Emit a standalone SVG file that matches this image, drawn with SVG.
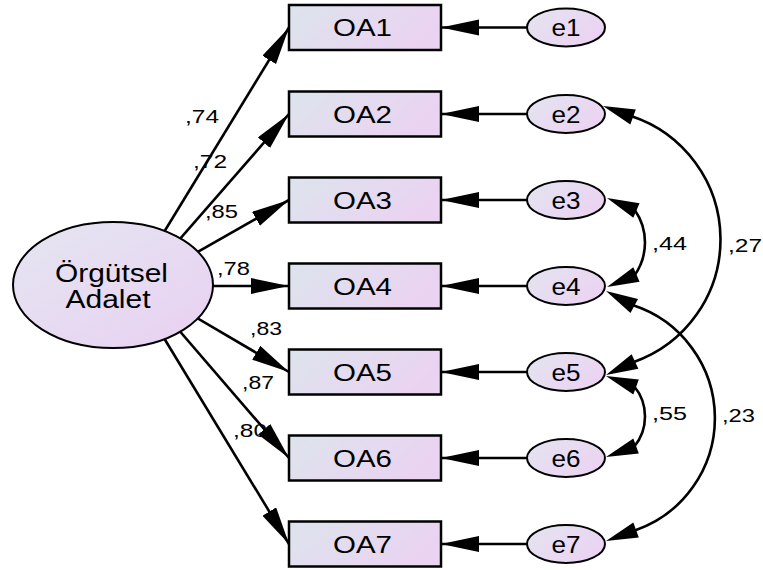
<svg xmlns="http://www.w3.org/2000/svg" xmlns:xlink="http://www.w3.org/1999/xlink" width="763" height="570" viewBox="0 0 763 570">
  <style>
    .box { stroke: #000; stroke-width: 2.5; fill: url(#boxFill); }
    .err { stroke: #000; stroke-width: 2; fill: url(#errFill); }
    .lat { stroke: #000; stroke-width: 2; fill: url(#latFill); }
    .edge { stroke: #000; stroke-width: 2.6; fill: none; }
    .head { fill: #000; stroke: none; }
    text { font-family: "Liberation Sans", Arial, sans-serif; fill: #000; }
    .lbl { font-size: 24px; text-anchor: middle; }
    .coef { font-size: 19px; }
  </style>
  <defs>
    <linearGradient id="boxFill" x1="0" y1="0" x2="1" y2="0.3">
      <stop offset="0" stop-color="#dde4ed"/>
      <stop offset="1" stop-color="#ead3f1"/>
    </linearGradient>
    <linearGradient id="errFill" x1="0" y1="0" x2="1" y2="0.6">
      <stop offset="0" stop-color="#e3e5f0"/>
      <stop offset="1" stop-color="#ebd3f2"/>
    </linearGradient>
    <linearGradient id="latFill" x1="0" y1="0" x2="1" y2="1">
      <stop offset="0" stop-color="#e4e6f1"/>
      <stop offset="1" stop-color="#e9d0f2"/>
    </linearGradient>
    <marker id="arrow" markerUnits="userSpaceOnUse" markerWidth="40" markerHeight="18" refX="38" refY="8" orient="auto">
      <path d="M0,0 L38,8 L0,16 Z" fill="#000"/>
    </marker>
    <!-- arrowhead for the covariance arcs: tip at origin, pointing along +x -->
    <path id="ah" d="M0,0 L-32,-8 L-32,8 Z"/>
  </defs>

  <!-- connectors -->
  <g id="connectors">
    <!-- factor loadings -->
    <line class="edge" x1="150" y1="255" x2="289" y2="27.5" marker-end="url(#arrow)"/>
    <line class="edge" x1="165" y1="256" x2="289" y2="114" marker-end="url(#arrow)"/>
    <line class="edge" x1="180" y1="262" x2="289" y2="200" marker-end="url(#arrow)"/>
    <line class="edge" x1="190" y1="286" x2="289" y2="286" marker-end="url(#arrow)"/>
    <line class="edge" x1="180" y1="308" x2="289" y2="372" marker-end="url(#arrow)"/>
    <line class="edge" x1="165" y1="314" x2="289" y2="458" marker-end="url(#arrow)"/>
    <line class="edge" x1="150" y1="315" x2="289" y2="544" marker-end="url(#arrow)"/>
    <!-- error terms -->
    <line class="edge" x1="527" y1="27.5" x2="441" y2="27.5" marker-end="url(#arrow)"/>
    <line class="edge" x1="527" y1="114" x2="441" y2="114" marker-end="url(#arrow)"/>
    <line class="edge" x1="527" y1="200" x2="441" y2="200" marker-end="url(#arrow)"/>
    <line class="edge" x1="527" y1="286" x2="441" y2="286" marker-end="url(#arrow)"/>
    <line class="edge" x1="527" y1="372" x2="441" y2="372" marker-end="url(#arrow)"/>
    <line class="edge" x1="527" y1="458" x2="441" y2="458" marker-end="url(#arrow)"/>
    <line class="edge" x1="527" y1="544" x2="441" y2="544" marker-end="url(#arrow)"/>
    <!-- covariances -->
    <path class="edge" d="M631,116 A130,130 0 0 1 633.2,362.3"/>
    <path class="edge" d="M634.6,209.7 A57,57 0 0 1 634.6,275.3"/>
    <path class="edge" d="M634.2,386.3 A47.6,47.6 0 0 1 634.2,446.7"/>
    <path class="edge" d="M632.5,305.1 A118.8,118.8 0 0 1 634.2,530.7"/>
    <use xlink:href="#ah" class="head" transform="translate(603,106) rotate(200)"/>
    <use xlink:href="#ah" class="head" transform="translate(606,375) rotate(155)"/>
    <use xlink:href="#ah" class="head" transform="translate(607,198) rotate(203)"/>
    <use xlink:href="#ah" class="head" transform="translate(607,287) rotate(157)"/>
    <use xlink:href="#ah" class="head" transform="translate(606,291) rotate(208)"/>
    <use xlink:href="#ah" class="head" transform="translate(606,541) rotate(160)"/>
    <use xlink:href="#ah" class="head" transform="translate(606,376) rotate(200)"/>
    <use xlink:href="#ah" class="head" transform="translate(606,457) rotate(160)"/>
  </g>

  <!-- coefficients -->
  <g id="coefficients">
    <text class="coef" x="185" y="123" textLength="34" lengthAdjust="spacingAndGlyphs">,74</text>
    <text class="coef" x="193" y="168" textLength="34" lengthAdjust="spacingAndGlyphs">,72</text>
    <text class="coef" x="205" y="218" textLength="33" lengthAdjust="spacingAndGlyphs">,85</text>
    <text class="coef" x="217" y="275" textLength="33" lengthAdjust="spacingAndGlyphs">,78</text>
    <text class="coef" x="250" y="335" textLength="32" lengthAdjust="spacingAndGlyphs">,83</text>
    <text class="coef" x="242" y="389" textLength="32" lengthAdjust="spacingAndGlyphs">,87</text>
    <text class="coef" x="233" y="437" textLength="34" lengthAdjust="spacingAndGlyphs">,80</text>
    <text class="coef" x="652" y="250" textLength="35" lengthAdjust="spacingAndGlyphs">,44</text>
    <text class="coef" x="728" y="252" textLength="34" lengthAdjust="spacingAndGlyphs">,27</text>
    <text class="coef" x="652" y="420" textLength="35" lengthAdjust="spacingAndGlyphs">,55</text>
    <text class="coef" x="722" y="422" textLength="33" lengthAdjust="spacingAndGlyphs">,23</text>
  </g>

  <!-- latent factor -->
  <g id="OrgutselAdalet">
    <ellipse class="lat" cx="113" cy="285" rx="100" ry="63"/>
    <text class="lbl" x="111.5" y="282" textLength="113" lengthAdjust="spacingAndGlyphs" style="font-size:25px">Örgütsel</text>
    <text class="lbl" x="108" y="308" textLength="85" lengthAdjust="spacingAndGlyphs" style="font-size:25px">Adalet</text>
  </g>

  <!-- observed indicators -->
  <g id="OA1"><rect class="box" x="289" y="5" width="152" height="45"/><text class="lbl" x="362.5" y="36" textLength="59" lengthAdjust="spacingAndGlyphs">OA1</text></g>
  <g id="OA2"><rect class="box" x="289" y="91.5" width="152" height="45"/><text class="lbl" x="362.5" y="122.5" textLength="59" lengthAdjust="spacingAndGlyphs">OA2</text></g>
  <g id="OA3"><rect class="box" x="289" y="177.5" width="152" height="45"/><text class="lbl" x="362.5" y="208.5" textLength="59" lengthAdjust="spacingAndGlyphs">OA3</text></g>
  <g id="OA4"><rect class="box" x="289" y="263.5" width="152" height="45"/><text class="lbl" x="362.5" y="294.5" textLength="59" lengthAdjust="spacingAndGlyphs">OA4</text></g>
  <g id="OA5"><rect class="box" x="289" y="349.5" width="152" height="45"/><text class="lbl" x="362.5" y="380.5" textLength="59" lengthAdjust="spacingAndGlyphs">OA5</text></g>
  <g id="OA6"><rect class="box" x="289" y="435.5" width="152" height="45"/><text class="lbl" x="362.5" y="466.5" textLength="59" lengthAdjust="spacingAndGlyphs">OA6</text></g>
  <g id="OA7"><rect class="box" x="289" y="521.5" width="152" height="45"/><text class="lbl" x="362.5" y="552.5" textLength="59" lengthAdjust="spacingAndGlyphs">OA7</text></g>

  <!-- error terms -->
  <g id="e1"><ellipse class="err" cx="566" cy="27.5" rx="39" ry="19"/><text class="lbl" x="566" y="36" textLength="29" lengthAdjust="spacingAndGlyphs">e1</text></g>
  <g id="e2"><ellipse class="err" cx="566" cy="114" rx="39" ry="19"/><text class="lbl" x="566" y="122.5" textLength="29" lengthAdjust="spacingAndGlyphs">e2</text></g>
  <g id="e3"><ellipse class="err" cx="566" cy="200" rx="39" ry="19"/><text class="lbl" x="566" y="208.5" textLength="29" lengthAdjust="spacingAndGlyphs">e3</text></g>
  <g id="e4"><ellipse class="err" cx="566" cy="286" rx="39" ry="19"/><text class="lbl" x="566" y="294.5" textLength="29" lengthAdjust="spacingAndGlyphs">e4</text></g>
  <g id="e5"><ellipse class="err" cx="566" cy="372" rx="39" ry="19"/><text class="lbl" x="566" y="380.5" textLength="29" lengthAdjust="spacingAndGlyphs">e5</text></g>
  <g id="e6"><ellipse class="err" cx="566" cy="458" rx="39" ry="19"/><text class="lbl" x="566" y="466.5" textLength="29" lengthAdjust="spacingAndGlyphs">e6</text></g>
  <g id="e7"><ellipse class="err" cx="566" cy="544" rx="39" ry="19"/><text class="lbl" x="566" y="552.5" textLength="29" lengthAdjust="spacingAndGlyphs">e7</text></g>
</svg>
